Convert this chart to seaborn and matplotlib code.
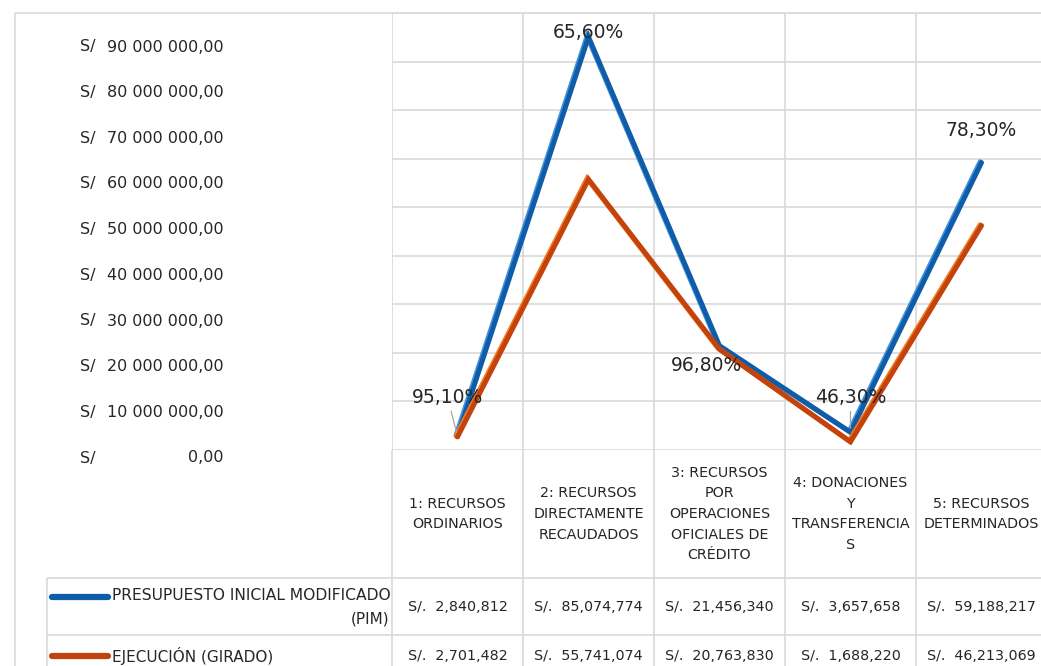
import numpy as np
import pandas as pd
import matplotlib
matplotlib.use("Agg")
import matplotlib.pyplot as plt
import matplotlib.transforms as mtransforms
import matplotlib.patheffects as pe
import seaborn as sns

# -------------------------------
# Data
# -------------------------------
categorias = [
    "1: RECURSOS\nORDINARIOS",
    "2: RECURSOS\nDIRECTAMENTE\nRECAUDADOS",
    "3: RECURSOS\nPOR\nOPERACIONES\nOFICIALES DE\nCRÉDITO",
    "4: DONACIONES\nY\nTRANSFERENCIA\nS",
    "5: RECURSOS\nDETERMINADOS",
]
pim = [2840812, 85074774, 21456340, 3657658, 59188217]
girado = [2701482, 55741074, 20763830, 1688220, 46213069]
avance = ["95,10%", "65,60%", "96,80%", "46,30%", "78,30%"]
y_ticks = [0, 10e6, 20e6, 30e6, 40e6, 50e6, 60e6, 70e6, 80e6, 90e6]

serie_pim = "PRESUPUESTO INICIAL MODIFICADO (PIM)"
serie_gir = "EJECUCIÓN (GIRADO)"

df = pd.DataFrame({
    "categoria": categorias * 2,
    "monto": pim + girado,
    "serie": [serie_pim] * 5 + [serie_gir] * 5,
})

# -------------------------------
# Style
# -------------------------------
W, H = 1041, 666
sns.set_theme(style="white")
plt.rcParams["font.family"] = ["DejaVu Sans"]

azul, azul_claro = "#0f5ca8", "#4393dc"
naranja, naranja_claro = "#c4420c", "#f07a1e"
gris = "#d9d9d9"
texto = "#262626"

fig = plt.figure(figsize=(W / 100, H / 100), dpi=100)
fig.patch.set_facecolor("white")

# background axes in pixel coordinates (borders, table)
bg = fig.add_axes([0, 0, 1, 1], zorder=0)
bg.set_xlim(0, W)
bg.set_ylim(H, 0)
bg.axis("off")

# main plot area
ax = fig.add_axes([392 / W, (H - 450) / H, 655 / W, 437 / H], zorder=1)
ax.set_facecolor("none")

sns.lineplot(
    data=df, x="categoria", y="monto", hue="serie",
    palette={serie_pim: azul, serie_gir: naranja},
    linewidth=3.6, legend=False, ax=ax, sort=False,
)
for line, claro in zip(ax.lines, [azul_claro, naranja_claro]):
    line.set_solid_joinstyle("miter")
    line.set_path_effects([
        pe.Stroke(linewidth=3.6, foreground=claro, offset=(-1.0, 0.6)),
        pe.Normal(),
    ])

ax.set_xlim(-0.5, 4.5)
ax.set_ylim(0, 90e6)
ax.set_yticks(y_ticks)
ax.set_xticks(np.arange(-0.5, 5, 1.0), minor=True)
ax.tick_params(labelbottom=False, labelleft=False, length=0, which="both")
ax.grid(axis="y", color=gris, linewidth=1.2)
ax.grid(axis="x", which="minor", color=gris, linewidth=1.2)
ax.grid(axis="x", which="major", visible=False)
ax.set_xlabel("")
ax.set_ylabel("")
for s in ax.spines.values():
    s.set_visible(False)

# data labels (% de ejecución)
offsets = [(-10, 39), (0, 4), (-13, -20), (0, 35), (0, 32)]
leader = [True, False, False, True, False]
for i, etiqueta in enumerate(avance):
    kw = {}
    if leader[i]:
        kw["arrowprops"] = dict(arrowstyle="-", color="#a6a6a6", lw=0.9,
                                shrinkA=1, shrinkB=3)
    ax.annotate(etiqueta, xy=(i, pim[i]), xytext=offsets[i],
                textcoords="offset pixels", ha="center", va="center",
                fontsize=13.5, color=texto, zorder=5, **kw)

# y tick labels (Excel accounting style)
lab = fig.add_axes([0, (H - 458) / H, 392 / W, 411 / H], zorder=1)
lab.set_xlim(0, 392)
lab.set_ylim(0, 90e6)
lab.axis("off")
for v in y_ticks:
    num = f"{v:,.2f}".replace(",", " ").replace(".", ",")
    lab.text(80, v, "S/", ha="left", va="center", fontsize=11.5, color=texto)
    lab.text(224, v, num, ha="right", va="center", fontsize=11.5, color=texto)

# -------------------------------
# Data table
# -------------------------------
bl = mtransforms.blended_transform_factory(ax.transData, bg.transData)
lk = dict(color=gris, linewidth=1.2, solid_capstyle="butt")

bg.plot([15, 15], [13, H], **lk)
bg.plot([15, W], [13, 13], **lk)
bg.plot([47, 47], [578, H], **lk)
bg.plot([47, W], [578, 578], **lk)
bg.plot([47, W], [635, 635], **lk)
for b in np.arange(-0.5, 5, 1.0):
    bg.plot([b, b], [450, H], transform=bl, **lk)

for i, cat in enumerate(categorias):
    bg.text(i, 514, cat, transform=bl, ha="center", va="center",
            fontsize=10.3, color=texto, linespacing=1.6)
    bg.text(i, 607, f"S/.  {pim[i]:,}", transform=bl, ha="center",
            va="center", fontsize=10.3, color=texto)
    bg.text(i, 656, f"S/.  {girado[i]:,}", transform=bl, ha="center",
            va="center", fontsize=10.3, color=texto)

# legend keys
bg.plot([52, 108], [597, 597], color=azul, linewidth=4.5, solid_capstyle="round")
bg.plot([52, 108], [656, 656], color=naranja, linewidth=4.5, solid_capstyle="round")
bg.text(112, 595, "PRESUPUESTO INICIAL MODIFICADO", ha="left", va="center",
        fontsize=11.2, color=texto)
bg.text(389, 619, "(PIM)", ha="right", va="center", fontsize=11, color=texto)
bg.text(112, 656, serie_gir, ha="left", va="center", fontsize=11, color=texto)

fig.savefig("out.png", dpi=100)
